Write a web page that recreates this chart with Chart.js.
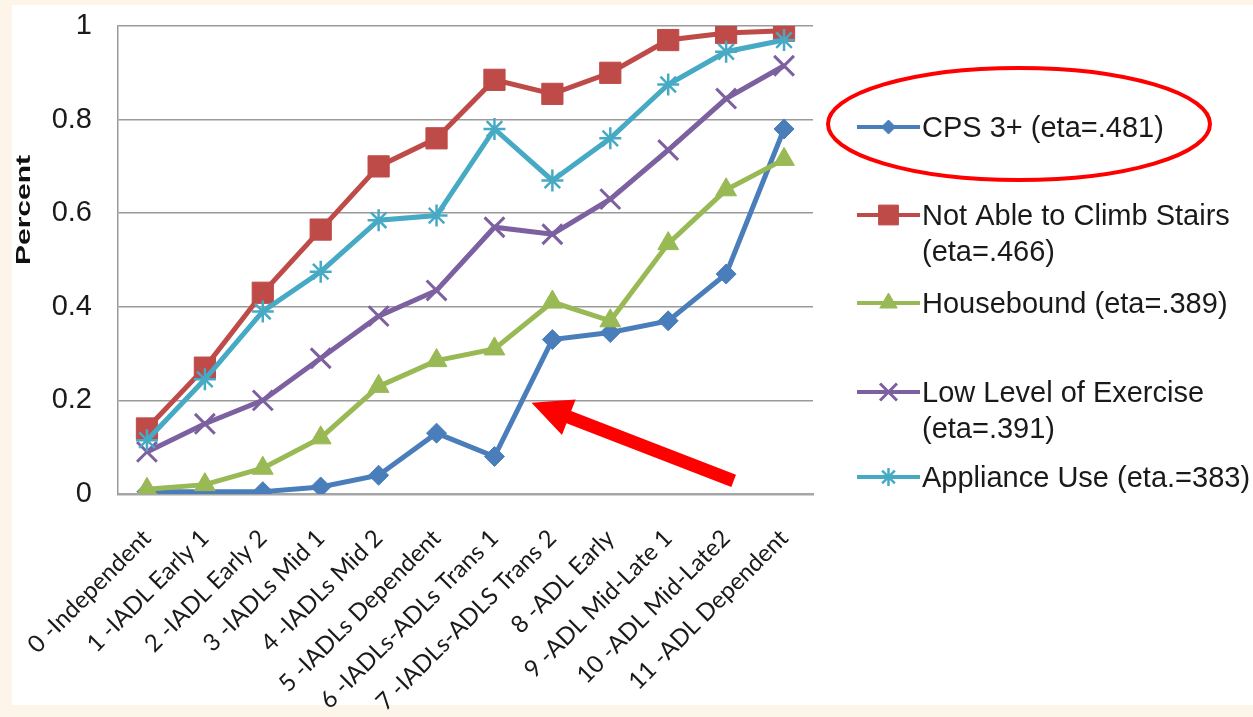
<!DOCTYPE html>
<html><head><meta charset="utf-8">
<script src="https://cdn.jsdelivr.net/npm/chart.js@4.4.0/dist/chart.umd.min.js"></script>
<style>
html,body{margin:0;padding:0;background:#fdf5ea;overflow:hidden;}
#wrap{position:absolute;left:0;top:0;width:1253px;height:717px;}
canvas{display:block;}
</style>
</head><body>
<div id="wrap"><canvas id="c" width="1253" height="717"></canvas></div>
<script>
const categories = ["0 -Independent","1 -IADL Early 1","2 -IADL Early 2","3 -IADLs Mid 1","4 -IADLs Mid 2","5 -IADLs Dependent","6 -IADLs-ADLs Trans 1","7 -IADLs-ADLS Trans 2","8 -ADL Early","9 -ADL Mid-Late 1","10 -ADL Mid-Late2","11 -ADL Dependent"];
const cps3 = [0.005,0.005,0.005,0.015,0.04,0.13,0.08,0.33,0.345,0.37,0.47,0.78];
const stairs = [0.14,0.27,0.43,0.565,0.70,0.76,0.885,0.855,0.90,0.97,0.985,0.99];
const housebound = [0.01,0.02,0.055,0.12,0.23,0.285,0.31,0.41,0.37,0.535,0.65,0.715];
const exercise = [0.09,0.15,0.20,0.29,0.38,0.435,0.57,0.555,0.63,0.735,0.845,0.915];
const appliance = [0.115,0.245,0.39,0.475,0.585,0.595,0.78,0.67,0.76,0.875,0.945,0.97];
const seriesNames = [["CPS 3+ (eta=.481)"],["Not Able to Climb Stairs","(eta=.466)"],["Housebound (eta=.389)"],["Low Level of Exercise","(eta=.391)"],["Appliance Use (eta.=383)"]];
const yTicks = [0,0.2,0.4,0.6,0.8,1];

const colors = ["#4a7ebb","#be4b48","#98b954","#7d60a0","#46aac5"];
const styles = ["rectRot","rect","triangle","crossRot","star"];
const radii = [10,15,12,14,11];
const legRadii = [7,14,10,12,9];
const bws = [1,1,1,3,2.5];
const values = [cps3,stairs,housebound,exercise,appliance];

const datasets = values.map((v,i)=>({
  label: seriesNames[i].join(" "),
  data: v,
  borderColor: colors[i],
  backgroundColor: colors[i],
  borderWidth: 5,
  pointStyle: styles[i],
  pointRadius: radii[i],
  pointBackgroundColor: colors[i],
  pointBorderColor: colors[i],
  pointBorderWidth: bws[i],
  tension: 0,
  order: 4-i
}));

const deco = {
  id:'deco',
  beforeDraw(chart){
    const ctx = chart.ctx;
    ctx.save();
    ctx.fillStyle = '#fdf5ea';
    ctx.fillRect(0,0,chart.width,chart.height);
    ctx.fillStyle = '#ffffff';
    ctx.fillRect(12,5,chart.width-12,700);
    ctx.restore();
  },
  afterDraw(chart){
    const ctx = chart.ctx;
    const xs = chart.scales.x, ys = chart.scales.y;
    ctx.save();
    // y axis title
    ctx.translate(24,210);
    ctx.rotate(-Math.PI/2);
    ctx.scale(1.5,1);
    ctx.fillStyle = '#111';
    ctx.font = 'bold 20px "Liberation Sans", Arial, sans-serif';
    ctx.textAlign = 'center';
    ctx.textBaseline = 'middle';
    ctx.fillText('Percent',0,0);
    ctx.restore();

    // legend
    const legX0 = 857, legX1 = 920, textX = 922;
    const rows = [127,215,303,392,477];
    ctx.save();
    ctx.font = '29px "Liberation Sans", Arial, sans-serif';
    ctx.textBaseline = 'middle';
    ctx.textAlign = 'left';
    rows.forEach((y,i)=>{
      ctx.strokeStyle = colors[i];
      ctx.lineWidth = 4;
      ctx.beginPath(); ctx.moveTo(legX0,y); ctx.lineTo(legX1,y); ctx.stroke();
      ctx.fillStyle = colors[i];
      ctx.lineWidth = bws[i];
      Chart.helpers.drawPoint(ctx,{pointStyle:styles[i],radius:legRadii[i],rotation:0,borderWidth:bws[i]},(legX0+legX1)/2,y);
      ctx.fillStyle = '#1a1a1a';
      seriesNames[i].forEach((t,k)=>ctx.fillText(t,textX,y+2+k*36));
    });
    ctx.restore();

    // red ellipse highlight
    ctx.save();
    ctx.strokeStyle = '#ff0000';
    ctx.lineWidth = 4;
    ctx.beginPath();
    ctx.ellipse(1019,124,191,56,0,0,Math.PI*2);
    ctx.stroke();
    ctx.restore();

    // red arrow pointing at the CPS 3+ jump (anchored via scales)
    const tipX = xs.getPixelForValue(6.64), tipY = ys.getPixelForValue(0.195);
    const tailX = xs.getPixelForValue(10.13), tailY = ys.getPixelForValue(0.028);
    const ang = Math.atan2(tailY-tipY, tailX-tipX);
    const headLen = 40, headHalf = 19, shaftHalf = 6.5;
    ctx.save();
    ctx.translate(tipX,tipY);
    ctx.rotate(ang);
    const len = Math.hypot(tailX-tipX, tailY-tipY);
    ctx.fillStyle = '#ff0000';
    ctx.beginPath();
    ctx.moveTo(0,0);
    ctx.lineTo(headLen,-headHalf);
    ctx.lineTo(headLen,-shaftHalf);
    ctx.lineTo(len,-shaftHalf);
    ctx.lineTo(len,shaftHalf);
    ctx.lineTo(headLen,shaftHalf);
    ctx.lineTo(headLen,headHalf);
    ctx.closePath();
    ctx.fill();
    ctx.restore();
  }
};

new Chart(document.getElementById('c'),{
  type:'line',
  data:{labels:categories,datasets:datasets},
  options:{
    responsive:false,
    animation:false,
    events:[],
    layout:{padding:{top:26,left:0,right:440,bottom:0}},
    plugins:{legend:{display:false},tooltip:{enabled:false}},
    scales:{
      x:{
        offset:true,
        grid:{display:false,drawTicks:false},
        border:{display:true,color:'#a6a6a6',width:2.5},
        afterFit(s){s.height=223;s.paddingLeft=0;s.paddingRight=0;},
        ticks:{autoSkip:false,minRotation:45,maxRotation:45,padding:30,labelOffset:0,color:'#1a1a1a',
          font:{size:24,family:'Lato, "Open Sans", sans-serif'}}
      },
      y:{
        min:0,max:1,
        afterFit(s){s.width=118;s.paddingTop=0;s.paddingBottom=0;},
        afterBuildTicks(s){s.ticks = yTicks.map(v=>({value:v}));},
        grid:{color:'#9a9a9a',lineWidth:1.5,drawTicks:false},
        border:{display:true,color:'#9a9a9a',width:1.5},
        ticks:{padding:26,color:'#1a1a1a',font:{size:29,family:'"Liberation Sans", Arial, sans-serif'},
          callback:(v)=>String(v)}
      }
    }
  },
  plugins:[deco]
});
</script>
</body></html>
